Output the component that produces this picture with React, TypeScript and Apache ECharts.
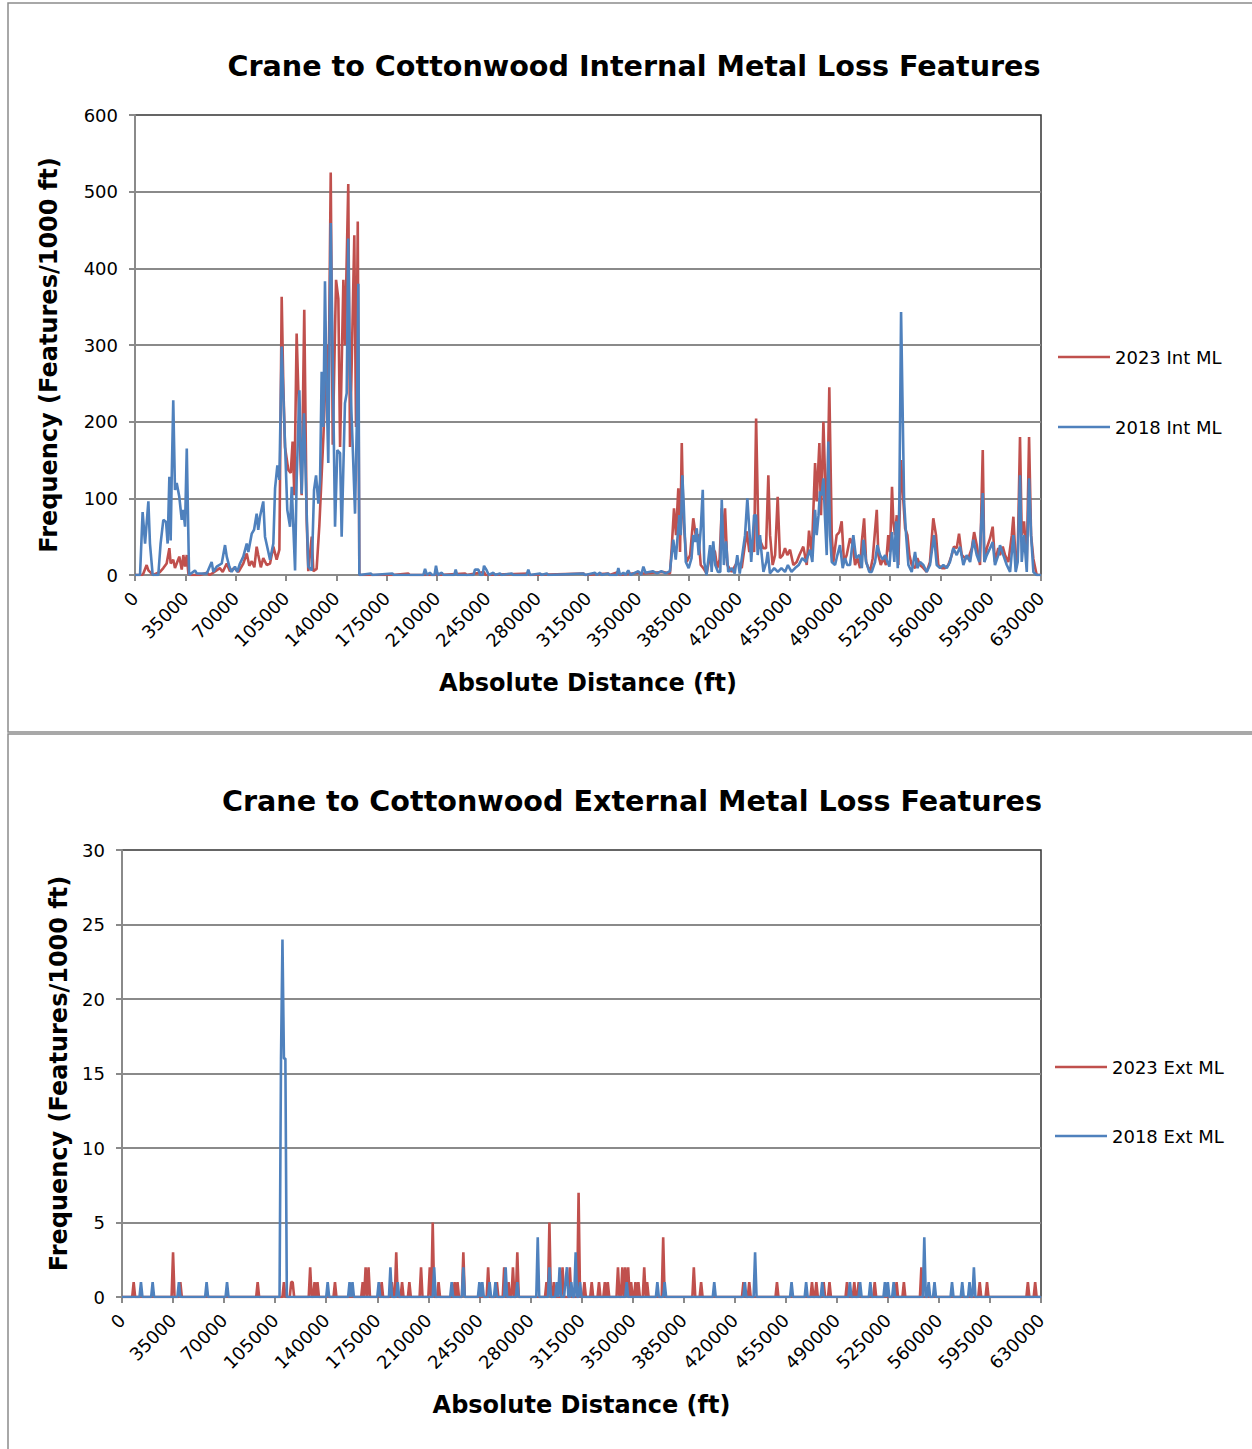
import React, { useEffect, useRef } from "react";
import * as echarts from "echarts";

// ---------- text ----------
const INT_TITLE = "Crane to Cottonwood Internal Metal Loss Features";
const EXT_TITLE = "Crane to Cottonwood External Metal Loss Features";
const X_NAME = "Absolute Distance (ft)";
const Y_NAME = "Frequency (Features/1000 ft)";
const INT_NAMES = ["2023 Int ML", "2018 Int ML"];
const EXT_NAMES = ["2023 Ext ML", "2018 Ext ML"];

// ---------- axes ----------
const X_MIN = 0;
const X_MAX = 630000;
const X_STEP = 35000;
const INT_Y = { min: 0, max: 600, step: 100 };
const EXT_Y = { min: 0, max: 30, step: 5 };
const BIN = 1000; // features are counted per 1000 ft bin

// ---------- Internal ML (distance ft, features/1000 ft) ----------
const INT_2023: number[][] = [
  [0, 0], [5000, 0], [5800, 2], [8100, 13], [9300, 6], [11600, 2], [12500, 0], [17400, 4], [19700, 9], [22000, 15],
  [23900, 35], [24800, 15], [26600, 20], [27800, 9], [29400, 17], [30800, 24], [32500, 7], [33600, 26], [34800, 11],
  [36000, 26], [37100, 2], [37800, 0],
  [45000, 0], [50000, 3], [52000, 0], [59000, 9], [61000, 4], [63800, 15], [66000, 5], [69000, 9], [72000, 4],
  [75300, 15], [77700, 28], [79500, 12], [81200, 18], [83000, 10], [84600, 37], [85700, 26], [87500, 10], [89200, 22],
  [91600, 13], [93900, 15], [96200, 37], [98500, 20], [100400, 33],
  [102000, 363], [103100, 250], [104300, 167], [106600, 137], [108300, 133], [109600, 174], [110800, 104], [112400, 315],
  [114300, 193], [115900, 104], [117700, 346], [119400, 70], [120500, 5], [122900, 50], [124000, 5], [126300, 8],
  [128200, 65], [131000, 180], [133300, 300], [134400, 200], [136100, 525], [137500, 170], [139800, 385], [141400, 360],
  [142600, 167], [144900, 385], [146000, 300], [148300, 510], [149500, 167], [152500, 443], [153700, 193], [154900, 461],
  [156000, 0],
  [164000, 0], [171000, 0], [178900, 0], [190100, 2], [191000, 0], [209300, 0], [210000, 3], [211000, 0], [229500, 2],
  [230500, 0], [242700, 4], [243700, 0], [273500, 2], [274500, 0], [311800, 2], [313000, 0], [329100, 2], [330000, 0],
  [336100, 4], [337000, 0], [350000, 3],
  [353500, 2], [360000, 3], [367400, 4], [372000, 2], [373200, 35], [374800, 87], [376200, 52], [377800, 113], [379000, 30],
  [380200, 172], [381300, 74], [383600, 17], [386000, 26], [388200, 74], [389900, 52], [391700, 52], [393400, 13],
  [395200, 9], [397500, 2], [399900, 26], [401700, 35], [403300, 30], [404900, 9], [406500, 20], [408000, 87],
  [409100, 40], [410300, 87], [411900, 13], [414900, 4], [418800, 17], [421900, 9], [425400, 57], [427200, 30],
  [428900, 43], [430500, 30], [431900, 204], [433500, 52], [435100, 43], [436900, 35], [438800, 35], [440400, 130],
  [441600, 52], [443400, 13], [445100, 26], [446900, 102], [448500, 22], [450400, 26], [452000, 35], [453600, 26],
  [455500, 33], [457800, 13], [460100, 17], [462000, 26], [464700, 37], [467100, 13], [468700, 58], [470600, 26],
  [472900, 146], [474000, 96], [475900, 172], [477000, 78], [478700, 200], [479800, 130], [481000, 52], [482800, 245],
  [484500, 52], [485600, 17], [487900, 52], [489800, 56], [491400, 70], [493000, 17], [494900, 26], [497200, 48],
  [499100, 39], [500700, 13], [502300, 22], [504200, 9], [505400, 43], [507000, 74], [508400, 17], [510000, 9],
  [511100, 4], [513000, 22], [515800, 85], [516900, 26], [518600, 13], [520400, 22], [522200, 13], [523800, 52],
  [525000, 30], [526400, 115], [527300, 70], [528500, 52], [529700, 78], [530800, 13], [532700, 150], [534300, 96],
  [535500, 61], [537100, 52], [538500, 26], [540100, 13], [542400, 9], [544000, 22], [545900, 13], [548200, 9],
  [550500, 4], [552800, 17], [555100, 74], [557000, 52], [558600, 13], [561000, 9], [563300, 9], [565600, 13],
  [567900, 26], [569500, 37], [571400, 35], [573000, 54], [574900, 26], [577200, 22], [579500, 22], [581900, 35],
  [583500, 56], [585300, 39], [587600, 13], [589500, 163], [590600, 17], [592300, 35], [594600, 48], [596400, 63],
  [598000, 17], [600300, 35], [601500, 26], [603400, 37], [605000, 26], [607300, 17], [609700, 52], [610800, 76],
  [612400, 17], [613800, 26], [615400, 180], [616600, 52], [618200, 70], [620100, 17], [621700, 180], [623100, 52],
  [624700, 21], [627000, 0], [630000, 0],
];

const INT_2018: number[][] = [
  [0, 0], [3500, 0], [5300, 82], [7000, 41], [9300, 96], [10400, 41], [12300, 0], [16200, 0], [17800, 41], [19700, 72],
  [21600, 69], [22700, 41], [23900, 128], [24800, 45], [25500, 124], [26600, 228], [27800, 111], [29000, 120],
  [30800, 102], [32500, 72], [33600, 85], [34800, 63], [36000, 165], [37600, 0],
  [41700, 6], [42900, 2], [49900, 2], [53300, 17], [54500, 4], [56800, 11], [60300, 15], [62600, 39], [63800, 24],
  [65600, 11], [67200, 4], [69500, 11], [71100, 4], [73000, 15], [75300, 24], [77700, 41], [78800, 30], [81200, 54],
  [82800, 59], [84600, 80], [85700, 59], [86900, 76], [89200, 96], [90400, 50], [93900, 20], [96200, 41], [97400, 113],
  [99000, 143], [100400, 124], [102000, 298], [104300, 172], [105900, 85], [107800, 63], [109000, 115], [111300, 6],
  [112400, 124], [114300, 241], [115900, 106], [117500, 211], [119400, 80], [120500, 11], [122900, 6], [124500, 111],
  [125900, 130], [127500, 93], [128700, 124], [129800, 265], [131000, 193], [132100, 383], [133300, 237], [134400, 146],
  [136100, 459], [137500, 280], [139100, 63], [140700, 163], [142600, 159], [143700, 50], [146000, 224], [147200, 237],
  [148300, 439], [149500, 263], [151400, 167], [153000, 80], [154200, 193], [155300, 380], [156000, 0],
  [164100, 2], [165000, 0], [178900, 2], [180000, 0], [200500, 0], [201700, 8], [203000, 0], [205100, 3], [206500, 0],
  [208300, 0], [209300, 12], [210500, 0], [213300, 3], [214500, 0], [222000, 0], [223000, 7], [224000, 0], [235400, 0],
  [236400, 7], [238800, 7], [240000, 0], [241700, 0], [242700, 12], [244600, 6], [246000, 0], [249200, 3], [250500, 0],
  [253800, 2], [255000, 0], [261900, 2], [263000, 0], [272300, 0], [273500, 7], [274700, 0], [281600, 2], [282600, 0],
  [286300, 2], [287300, 0], [311800, 2], [313000, 0], [319900, 3], [321000, 0], [323400, 3], [324500, 0], [329100, 2],
  [330000, 0], [335000, 0], [336100, 9], [337300, 0], [339600, 3], [341000, 0], [343000, 6], [344500, 0], [350000, 5],
  [352000, 0], [353500, 11], [355000, 3], [360000, 5], [363000, 2], [366000, 5], [369000, 2], [372000, 5], [374300, 46],
  [376000, 20], [378500, 78], [379500, 52], [380600, 130], [381600, 90], [383000, 17], [385000, 9], [387000, 22],
  [388200, 52], [389500, 43], [390600, 61], [392000, 26], [393400, 60], [394800, 111], [395800, 17], [397400, 0],
  [399900, 39], [401000, 4], [402100, 44], [403500, 13], [405400, 4], [407000, 4], [408000, 98], [409500, 13],
  [411000, 44], [412500, 4], [415000, 9], [417000, 2], [418800, 26], [420500, 2], [424200, 52], [425800, 100],
  [427000, 65], [428500, 17], [430500, 78], [431900, 78], [433000, 26], [434600, 52], [435800, 26], [437000, 4],
  [439000, 17], [440000, 30], [441500, 2], [444500, 9], [447000, 4], [449500, 9], [452000, 4], [454000, 13],
  [456500, 4], [459000, 9], [461500, 13], [464000, 22], [466500, 17], [469400, 33], [471000, 17], [472900, 85],
  [474000, 52], [475300, 78], [476300, 109], [477500, 104], [478700, 126], [479800, 74], [481000, 26], [482100, 174],
  [483300, 52], [484500, 17], [486800, 13], [488400, 26], [490200, 39], [492100, 9], [493700, 22], [495300, 13],
  [497200, 13], [499500, 52], [501400, 22], [503700, 26], [505400, 9], [506500, 46], [508400, 17], [510600, 4],
  [512300, 4], [514600, 17], [516200, 39], [518100, 26], [520000, 20], [521600, 26], [523200, 17], [524600, 11],
  [526400, 56], [528000, 17], [529200, 70], [530400, 9], [531500, 96], [532700, 343], [533900, 202], [534800, 96],
  [536200, 52], [537800, 13], [540100, 4], [542400, 30], [544000, 9], [545900, 17], [548200, 13], [550500, 4],
  [552800, 13], [555600, 52], [557500, 13], [559800, 9], [562100, 13], [564500, 9], [566700, 17], [569000, 35],
  [571400, 26], [573700, 37], [576000, 13], [578300, 26], [580700, 17], [583000, 46], [585300, 26], [587100, 17],
  [589500, 107], [590600, 17], [592300, 26], [594600, 35], [596400, 43], [598000, 13], [600300, 26], [601500, 39],
  [603800, 26], [606200, 13], [608500, 4], [610800, 52], [612400, 4], [613800, 17], [615400, 130], [616600, 17],
  [618200, 52], [620100, 4], [621700, 126], [623100, 52], [624700, 4], [627000, 0], [630000, 0],
];

// ---------- External ML: non-zero 1000 ft bins (distance ft, features/1000 ft) ----------
const EXT_2023_BINS: number[][] = [
  [8000, 1], [35000, 3], [40000, 1], [93000, 1], [111000, 1], [116000, 1], [117000, 1], [129000, 2], [132000, 1],
  [134000, 1], [146000, 1], [165000, 1], [167000, 2], [169000, 2], [178000, 1], [185000, 1], [188000, 3], [192000, 1],
  [197000, 1], [205000, 2], [211000, 2], [213000, 5], [217000, 1], [228000, 1], [230000, 1], [234000, 3], [251000, 2],
  [257000, 1], [262000, 2], [265000, 1], [268000, 2], [271000, 3], [291000, 1], [293000, 5], [296000, 1], [302000, 2],
  [307000, 2], [313000, 7], [317000, 1], [322000, 1], [327000, 1], [331000, 1], [333000, 1], [340000, 2], [343000, 2],
  [345000, 2], [347000, 2], [349000, 1], [352000, 1], [354000, 1], [358000, 2], [360000, 1], [371000, 4], [392000, 2],
  [397000, 1], [426000, 1], [430000, 1], [449000, 1], [473000, 1], [476000, 1], [481000, 1], [485000, 1], [497000, 1],
  [502000, 1], [505000, 1], [516000, 1], [531000, 1], [536000, 1], [548000, 2], [588000, 1], [593000, 1], [621000, 1],
  [626000, 1],
];

const EXT_2018_BINS: number[][] = [
  [13000, 1], [21000, 1], [39000, 1], [58000, 1], [72000, 1], [109000, 16], [110000, 24], [111000, 16], [112000, 16],
  [141000, 1], [156000, 1], [158000, 1], [176000, 1], [184000, 2], [189000, 1], [214000, 2], [226000, 1], [234000, 2],
  [245000, 1], [247000, 1], [252000, 1], [256000, 1], [263000, 2], [271000, 1], [285000, 4], [293000, 2], [298000, 1],
  [300000, 2], [304000, 1], [305000, 2], [308000, 1], [311000, 3], [314000, 1], [346000, 1], [367000, 1], [372000, 1],
  [406000, 1], [427000, 1], [434000, 3], [459000, 1], [469000, 1], [480000, 1], [499000, 1], [506000, 1], [513000, 1],
  [523000, 1], [525000, 1], [529000, 1], [550000, 4], [553000, 1], [557000, 1], [569000, 1], [576000, 1], [581000, 1],
  [584000, 2],
];

// ---------- styles ----------
const RED = "#C0504D";
const BLUE = "#4F81BD";
const GRID_GRAY = "#8a8a8a";
const FONT = '"DejaVu Sans", "Noto Sans", sans-serif';
const LEGEND_LINE = "path://M0,0 H52 V2.6 H0 Z";

// bins not listed hold zero features: place explicit zeros in the neighbouring bins
function binsToLine(bins: number[][]): number[][] {
  const values = new Map<number, number>();
  bins.forEach(([d, v]) => values.set(d, v));
  const xs = new Set<number>([X_MIN, X_MAX]);
  bins.forEach(([d]) => {
    xs.add(d - BIN);
    xs.add(d);
    xs.add(d + BIN);
  });
  return Array.from(xs)
    .filter((x) => x >= X_MIN && x <= X_MAX)
    .sort((a, b) => a - b)
    .map((x) => [x, values.get(x) ?? 0]);
}

function xAxis(gridIndex: number, nameGap: number) {
  return {
    gridIndex,
    type: "value",
    min: X_MIN,
    max: X_MAX,
    interval: X_STEP,
    name: X_NAME,
    nameLocation: "middle",
    nameGap,
    nameTextStyle: { fontSize: 24, fontWeight: "bold", color: "#000", fontFamily: FONT },
    axisLine: { show: true, onZero: false, lineStyle: { color: GRID_GRAY, width: 2 } },
    axisTick: { show: true, length: 6, lineStyle: { color: GRID_GRAY, width: 2 } },
    axisLabel: {
      rotate: 45,
      margin: 20,
      fontSize: 18,
      color: "#000",
      fontFamily: FONT,
      formatter: (v: number) => String(v),
    },
    splitLine: { show: false },
  };
}

function yAxis(gridIndex: number, cfg: { min: number; max: number; step: number }, nameGap: number, namePad: number[]) {
  return {
    gridIndex,
    type: "value",
    min: cfg.min,
    max: cfg.max,
    interval: cfg.step,
    name: Y_NAME,
    nameLocation: "middle",
    nameRotate: 90,
    nameGap,
    nameTextStyle: { fontSize: 24, fontWeight: "bold", color: "#000", fontFamily: FONT, padding: namePad },
    axisLine: { show: true, lineStyle: { color: GRID_GRAY, width: 2 } },
    axisTick: { show: true, length: 6, lineStyle: { color: GRID_GRAY, width: 2 } },
    axisLabel: { margin: 17, fontSize: 18, color: "#000", fontFamily: FONT },
    splitLine: { show: true, showMaxLine: false, lineStyle: { color: GRID_GRAY, width: 2 } },
  };
}

function legend(names: string[], left: number, top: number, gap: number) {
  return {
    data: names.map((name) => ({ name, icon: LEGEND_LINE })),
    orient: "vertical",
    left,
    top,
    padding: 0,
    itemWidth: 52,
    itemHeight: 14,
    itemGap: gap,
    symbolKeepAspect: true,
    selectedMode: false,
    textStyle: { fontSize: 18, color: "#000", fontFamily: FONT },
  };
}

function lineSeries(name: string, color: string, data: number[][], axis: number) {
  return {
    name,
    type: "line",
    xAxisIndex: axis,
    yAxisIndex: axis,
    data,
    symbol: "none",
    showSymbol: false,
    lineStyle: { color, width: 2.6 },
    itemStyle: { color },
    emphasis: { disabled: true },
  };
}

export default function App() {
  const ref = useRef<HTMLDivElement>(null);

  useEffect(() => {
    if (!ref.current) return;
    const chart = echarts.init(ref.current, undefined, { renderer: "svg" });
    const titleStyle = { fontSize: 28.6, fontWeight: "bold", color: "#000", fontFamily: FONT };
    chart.setOption({
      animation: false,
      backgroundColor: "#ffffff",
      textStyle: { fontFamily: FONT },
      title: [
        { text: INT_TITLE, left: 634, top: 66, textAlign: "center", textVerticalAlign: "middle", padding: 0, textStyle: titleStyle },
        { text: EXT_TITLE, left: 632, top: 801, textAlign: "center", textVerticalAlign: "middle", padding: 0, textStyle: titleStyle },
      ],
      legend: [legend(INT_NAMES, 1058, 348, 52), legend(EXT_NAMES, 1055, 1058, 51)],
      grid: [
        { left: 135, top: 115, width: 906, height: 460, show: true, borderColor: "#333333", borderWidth: 1.5 },
        { left: 122, top: 850, width: 919, height: 447, show: true, borderColor: "#333333", borderWidth: 1.5 },
      ],
      xAxis: [xAxis(0, 96), xAxis(1, 96)],
      yAxis: [yAxis(0, INT_Y, 74, [0, 20, 0, 0]), yAxis(1, EXT_Y, 51, [0, 0, 0, 0])],
      graphic: [
        { type: "rect", silent: true, shape: { x: 8, y: 3, width: 1262, height: 729 }, style: { fill: "none", stroke: "#8c8c8c", lineWidth: 1.5 } },
        { type: "rect", silent: true, shape: { x: 8, y: 734, width: 1262, height: 730 }, style: { fill: "none", stroke: "#8c8c8c", lineWidth: 1.5 } },
      ],
      series: [
        lineSeries(INT_NAMES[0], RED, INT_2023, 0),
        lineSeries(INT_NAMES[1], BLUE, INT_2018, 0),
        lineSeries(EXT_NAMES[0], RED, binsToLine(EXT_2023_BINS), 1),
        lineSeries(EXT_NAMES[1], BLUE, binsToLine(EXT_2018_BINS), 1),
      ],
    });
    return () => chart.dispose();
  }, []);

  return (
    <div
      ref={ref}
      style={{ position: "absolute", left: 0, top: 0, width: 1252, height: 1449, background: "#fff" }}
    />
  );
}
